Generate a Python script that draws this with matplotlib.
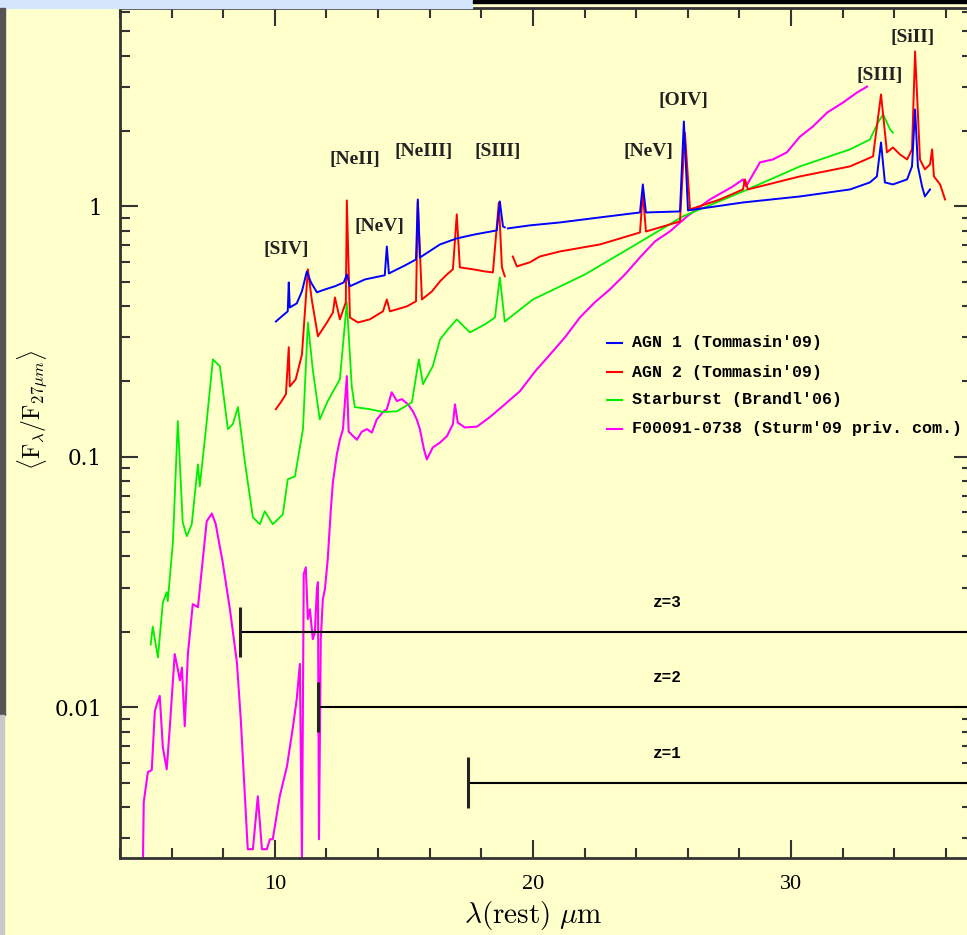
import numpy as np
import matplotlib
matplotlib.use("Agg")
import matplotlib.pyplot as plt
from matplotlib.lines import Line2D
from matplotlib.patches import Rectangle
from matplotlib.ticker import MultipleLocator, LogLocator, NullFormatter

nan = np.nan

# AGN 1 (Tommasin'09)
agn1_wl = [10.04, 10.31, 10.50, 10.54, 10.58, 10.85, 11.05, 11.24, 11.40, 11.63, 11.94, 12.33,
           12.67, 12.79, 12.91, 13.49, 14.26, 14.34, 14.42, 15.04, 15.47, 15.54, 15.62, 16.40,
           17.05, 17.75, 18.60, 18.72, 18.84, 18.91, 18.95, 19.03, 19.88, 21.05, 22.60, 24.15,
           24.26, 24.38, 25.70, 25.85, 26.01, 28.14, 30.35, 32.29, 33.06, 33.33, 33.49, 33.64,
           33.95, 34.50, 34.69, 34.81, 34.92, 35.08, 35.19, 35.39]
agn1_f = [0.347, 0.367, 0.381, 0.497, 0.395, 0.410, 0.458, 0.550, 0.497, 0.454, 0.466, 0.480,
          0.497, 0.535, 0.480, 0.511, 0.531, 0.692, 0.540, 0.581, 0.614, 1.066, 0.625, 0.705,
          0.745, 0.773, 0.802, 1.047, 0.832, 0.825, nan, 0.817, 0.840, 0.863, 0.904, 0.946,
          1.224, 0.946, 0.955, 2.185, 0.964, 1.037, 1.096, 1.169, 1.247, 1.318, 1.80, 1.247,
          1.224, 1.282, 1.445, 2.44, 1.445, 1.202, 1.096, 1.169]

# AGN 2 (Tommasin'09)
agn2_wl = [10.04, 10.23, 10.43, 10.54, 10.58, 10.81, 11.05, 11.28, 11.43, 11.67, 12.02, 12.25,
           12.33, 12.52, 12.75, 12.79, 12.91, 13.22, 13.68, 14.19, 14.34, 14.46, 15.12, 15.47,
           15.54, 15.70, 16.09, 16.40, 16.67, 16.90, 17.05, 17.17, 17.67, 18.14, 18.45, 18.68,
           18.80, 18.91, 19.05, 19.22, 19.38, 19.88, 20.27, 21.05, 22.60, 24.15, 24.26, 24.38,
           25.70, 25.89, 26.09, 27.25, 28.14, 28.22, 28.33, 30.35, 32.29, 33.18, 33.49, 33.72,
           33.95, 34.22, 34.50, 34.69, 34.81, 35.00, 35.19, 35.39, 35.47, 35.54, 35.78, 35.97]
agn2_f = [0.155, 0.165, 0.178, 0.274, 0.191, 0.204, 0.256, 0.561, 0.425, 0.303, 0.344, 0.377,
          0.433, 0.354, 0.414, 1.057, 0.360, 0.344, 0.354, 0.381, 0.425, 0.381, 0.399, 0.418,
          1.047, 0.425, 0.458, 0.502, 0.535, 0.561, 0.929, 0.571, 0.561, 0.550, 0.545, 1.037,
          0.571, 0.526, nan, 0.631, 0.576, 0.598, 0.631, 0.661, 0.705, 0.787, 1.137, 0.794,
          0.871, 1.973, 0.973, 1.066, 1.169, 1.282, 1.169, 1.318, 1.445, 1.584, 2.80, 1.644,
          1.720, 1.614, 1.54, 1.69, 4.16, 1.54, 1.406, 1.472, 1.69, 1.318, 1.224, 1.066]

# Starburst (Brandl'06)
sb_wl = [5.19, 5.27, 5.35, 5.47, 5.66, 5.81, 5.85, 6.05, 6.24, 6.43, 6.59, 6.78, 7.02, 7.09,
         7.33, 7.60, 7.87, 8.18, 8.37, 8.57, 8.84, 9.15, 9.42, 9.61, 9.92, 10.31, 10.50, 10.78,
         11.09, 11.28, 11.47, 11.74, 12.05, 12.52, 12.79, 12.98, 13.10, 13.68, 14.19, 14.73,
         15.31, 15.58, 15.74, 16.12, 16.40, 16.71, 17.05, 17.36, 17.56, 18.14, 18.53, 18.72,
         18.91, 20.00, 22.02, 23.99, 25.81, 28.14, 30.35, 32.29, 33.06, 33.37, 33.57, 33.84,
         33.95]
sb_f = [0.0178, 0.0210, 0.0187, 0.0158, 0.0262, 0.0288, 0.0265, 0.0456, 0.139, 0.0548, 0.0482,
        0.0538, 0.0933, 0.0762, 0.129, 0.245, 0.230, 0.129, 0.135, 0.158, 0.0951, 0.0573,
        0.0538, 0.0606, 0.0538, 0.0589, 0.0813, 0.0836, 0.129, 0.344, 0.223, 0.141, 0.167,
        0.204, 0.414, 0.191, 0.158, 0.155, 0.151, 0.152, 0.165, 0.245, 0.195, 0.230, 0.294,
        0.323, 0.354, 0.329, 0.314, 0.338, 0.360, 0.521, 0.347, 0.425, 0.535, 0.705, 0.912,
        1.148, 1.445, 1.69, 1.85, 2.16, 2.33, 2.03, 1.97]

# F00091-0738 (Sturm'09 priv. com.)
ulirg_wl = [4.88, 4.92, 5.08, 5.23, 5.35, 5.43, 5.54, 5.66, 5.81, 5.93, 6.12, 6.24, 6.32, 6.40,
            6.51, 6.63, 6.82, 7.02, 7.17, 7.36, 7.56, 7.71, 7.98, 8.26, 8.53, 8.68, 8.84, 8.95,
            9.15, 9.34, 9.50, 9.69, 9.81, 9.92, 10.19, 10.47, 10.70, 10.85, 10.97, 11.05, 11.12,
            11.20, 11.28, 11.36, 11.47, 11.55, 11.63, 11.67, 11.71, 11.78, 11.86, 11.94, 12.05,
            12.17, 12.25, 12.40, 12.52, 12.64, 12.79, 12.86, 13.18, 13.37, 13.57, 13.76, 13.95,
            14.19, 14.34, 14.53, 14.73, 14.92, 15.16, 15.35, 15.50, 15.62, 15.78, 15.89, 16.12,
            16.40, 16.67, 16.90, 16.98, 17.09, 17.36, 17.83, 18.33, 18.91, 19.50, 20.08, 20.66,
            21.24, 21.82, 22.40, 22.98, 23.57, 24.15, 24.73, 25.31, 25.97, 26.86, 27.75, 28.14,
            28.26, 28.80, 29.30, 29.84, 30.35, 30.85, 31.40, 32.02, 32.56, 32.95]
ulirg_f = [0.00206, 0.00418, 0.00551, 0.00561, 0.00964, 0.0103, 0.0111, 0.00692, 0.00565,
           0.00832, 0.0163, 0.0142, 0.0128, 0.0144, 0.00840, 0.0163, 0.0258, 0.0251, 0.0356,
           0.0553, 0.0594, 0.0538, 0.0379, 0.0246, 0.0151, 0.00895, 0.00441, 0.00271, 0.00271,
           0.00441, 0.00271, 0.00271, 0.00297, 0.00297, 0.00441, 0.00581, 0.00832, 0.0108,
           0.0149, 0.00247, 0.034, 0.0362, 0.0225, 0.0246, 0.0187, 0.0199, 0.0296, 0.0316,
           0.00297, 0.0187, 0.0270, 0.0296, 0.0390, 0.0617, 0.0791, 0.102, 0.117, 0.129, 0.210,
           0.126, 0.117, 0.126, 0.129, 0.125, 0.141, 0.151, 0.155, 0.181, 0.167, 0.170, 0.162,
           0.152, 0.141, 0.129, 0.107, 0.0977, 0.109, 0.114, 0.121, 0.135, 0.162, 0.137, 0.131,
           0.132, 0.144, 0.162, 0.183, 0.219, 0.256, 0.300, 0.360, 0.414, 0.466, 0.535, 0.626,
           0.725, 0.795, 0.912, 1.066, 1.202, 1.282, 1.202, 1.50, 1.54, 1.644, 1.90, 2.085,
           2.37, 2.60, 2.85, 3.01]

series_labels = ["AGN 1 (Tommasin'09)", "AGN 2 (Tommasin'09)",
                 "Starburst (Brandl'06)", "F00091-0738 (Sturm'09 priv. com.)"]
series_colors = ["#0000ff", "#ff0000", "#00ee00", "#ff00ff"]

# emission line labels
line_names = ["[SIV]", "[NeII]", "[NeV]", "[NeIII]", "[SIII]", "[NeV]", "[OIV]", "[SIII]", "[SiII]"]
line_wl = [10.43, 13.1, 14.07, 15.78, 18.64, 24.46, 25.85, 33.45, 34.73]
line_f = [0.673, 1.54, 0.832, 1.66, 1.66, 1.66, 2.65, 3.34, 4.73]

# redshift coverage bars
z_names = ["z=1", "z=2", "z=3"]
z_start = [17.5, 11.67, 8.65]
z_level = [0.005, 0.01, 0.02]

bg = "#ffffcc"
plt.rcParams["mathtext.fontset"] = "cm"
fig = plt.figure(figsize=(9.67, 9.35), dpi=100, facecolor=bg)
ax = fig.add_axes([120 / 967, 1 - 858 / 935, 851.6 / 967, 850 / 935], facecolor=bg)

ax.plot(ulirg_wl, ulirg_f, color=series_colors[3], lw=1.5)
ax.plot(sb_wl, sb_f, color=series_colors[2], lw=1.3)
ax.plot(agn2_wl, agn2_f, color=series_colors[1], lw=1.4)
ax.plot(agn1_wl, agn1_f, color=series_colors[0], lw=1.4)

for name, x0, lev in zip(z_names, z_start, z_level):
    ax.hlines(lev, x0, 40, colors="k", lw=1.5)
    ax.vlines(x0, lev / 1.26, lev * 1.26, colors="#222222", lw=2.2)
    ax.text(25.2, lev * 1.31, name, ha="center", va="center",
            family="Liberation Mono", weight="bold", fontsize=11.5)

for name, x, y in zip(line_names, line_wl, line_f):
    ax.text(x, y, name, ha="center", va="center", family="Liberation Serif",
            weight="bold", fontsize=14, color="#222222")

ax.set_yscale("log")
ax.set_xlim(4, 37)
ax.set_ylim(0.0025, 6.2)
ax.xaxis.set_major_locator(MultipleLocator(10))
ax.xaxis.set_minor_locator(MultipleLocator(2))
ax.yaxis.set_minor_locator(LogLocator(base=10, subs=np.arange(2, 10), numticks=20))
ax.yaxis.set_minor_formatter(NullFormatter())
ax.set_yticks([0.01, 0.1, 1])
ax.set_yticklabels(["0.01", "0.1", "1"], family="DejaVu Serif", fontsize=15.5)
ax.set_xticks([10, 20, 30])
ax.set_xticklabels(["10", "20", "30"], family="Liberation Serif", fontsize=16)

ax.tick_params(which="both", direction="in", top=True, right=True, color="#333333")
ax.tick_params(which="major", length=13, width=1.5)
ax.tick_params(which="minor", length=7, width=1.5)
ax.tick_params(axis="x", pad=12)
ax.tick_params(axis="y", pad=13)
for s in ax.spines.values():
    s.set_linewidth(2)
    s.set_color("#333333")

fig.text(33 / 967, 1 - 410 / 935, r"$\langle \mathrm{F}_\lambda/\mathrm{F}_{27\mu m}\rangle$",
         rotation=90, ha="center", va="center", fontsize=17)
fig.text(533 / 967, 1 - 915 / 935, r"$\lambda(\mathrm{rest})\ \mu\mathrm{m}$",
         ha="center", va="center", fontsize=21)

# legend drawn by hand
leg_y = [343, 372, 400, 429]
for lab, col, y in zip(series_labels, series_colors, leg_y):
    yf = 1 - y / 935
    fig.add_artist(Line2D([607 / 967, 622 / 967], [yf, yf], color=col, lw=1.5))
    fig.text(632 / 967, yf, lab, ha="left", va="center", family="Liberation Mono",
             weight="bold", fontsize=12)

# screenshot edges
fig.patches.append(Rectangle((0, 1 - 8 / 935), 472 / 967, 8 / 935, transform=fig.transFigure,
                             color="#d4e6fb", zorder=5))
fig.patches.append(Rectangle((473 / 967, 1 - 3 / 935), 494 / 967, 3 / 935,
                             transform=fig.transFigure, color="black", zorder=5))
fig.patches.append(Rectangle((0, 1 - 715 / 935), 5 / 967, 707 / 935, transform=fig.transFigure,
                             color="#555555", zorder=5))
fig.patches.append(Rectangle((0, 0), 4 / 967, 220 / 935, transform=fig.transFigure,
                             color="#c8c8c8", zorder=5))

fig.savefig("out.png", dpi=100, facecolor=bg)
